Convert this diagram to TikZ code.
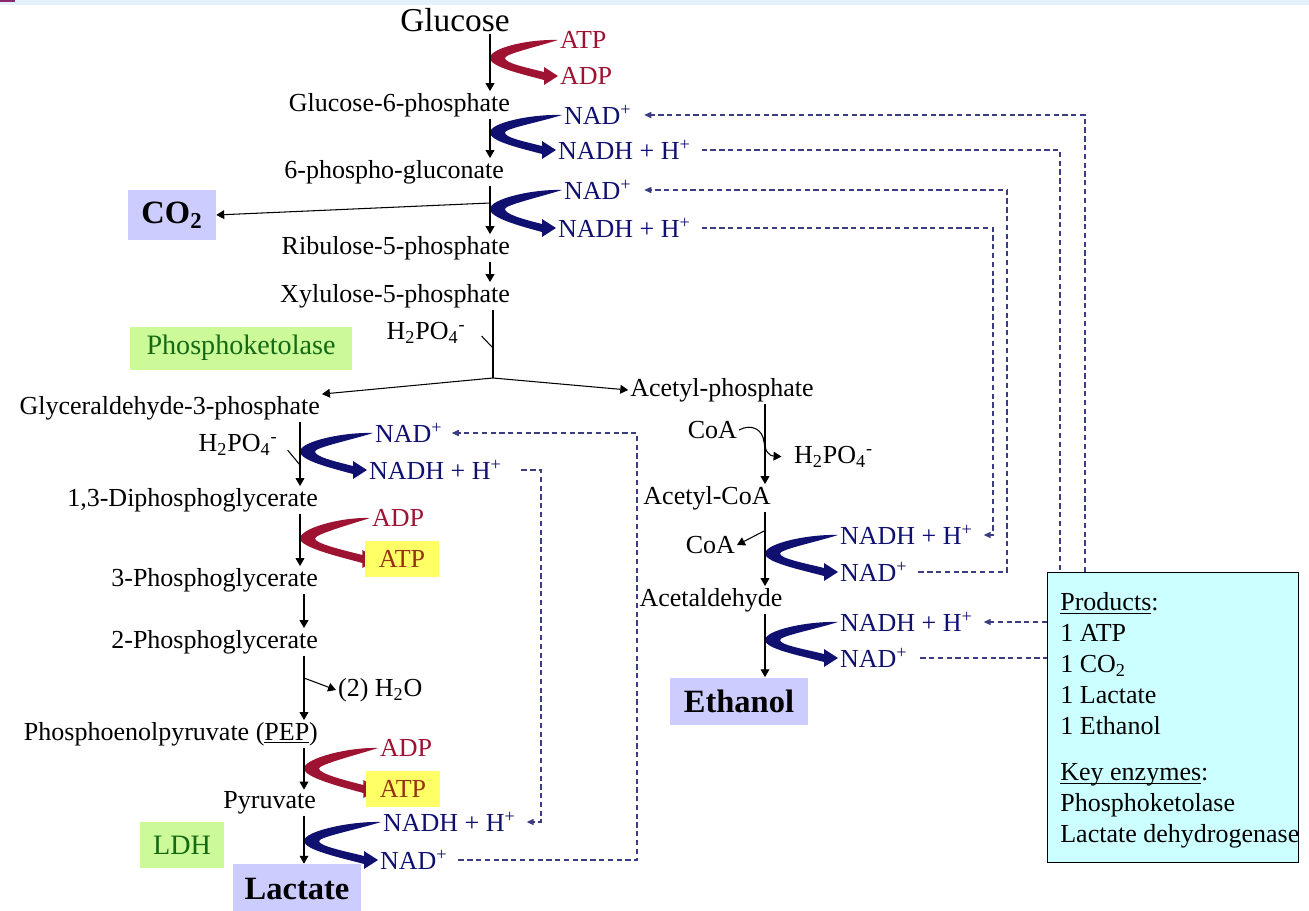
\documentclass[tikz,border=0pt]{standalone}
\usepackage{fontspec}
\setmainfont{Liberation Serif}
\usetikzlibrary{arrows.meta,calc,backgrounds}

\definecolor{atpred}{RGB}{158,18,50}
\definecolor{nadblue}{RGB}{16,16,112}
\definecolor{dashblue}{RGB}{60,60,130}
\definecolor{enzgreen}{RGB}{204,250,153}
\definecolor{enztext}{RGB}{20,105,20}
\definecolor{prodlav}{RGB}{204,204,255}
\definecolor{atpyellow}{RGB}{255,255,102}
\definecolor{atptext}{RGB}{150,50,20}
\definecolor{sumcyan}{RGB}{204,255,255}
\definecolor{topline}{RGB}{228,240,250}
\definecolor{topmark}{RGB}{140,40,110}

\newcommand{\hpo}{H\textsubscript{2}PO\textsubscript{4}\textsuperscript{-}}
\newcommand{\nadp}{NAD\textsuperscript{+}}
\newcommand{\nadh}{NADH + H\textsuperscript{+}}
\newcommand{\uln}[1]{\underline{\smash{#1}}\vphantom{#1}}

% thick cofactor arrow: from, to, axis, colour
\newcommand{\swoosh}[4]{%
  \coordinate (swS) at (#1);
  \coordinate (swE) at (#2);
  \coordinate (swM) at ($(swS)!0.5!(swE)$);
  \coordinate (swB) at (swM -| #3);
  \fill[#4] (swS) .. controls +(-30,-1) and +(0,-10) .. (swB)
    .. controls +(0,9) and +(-22,-6) .. ($(swE)+(-14,4)$)
    -- ($(swE)+(-14,9)$) -- (swE) -- ($(swE)+(-14,-9)$) -- ($(swE)+(-14,-4)$)
    .. controls +(-20,-5) and +(0,5) .. ($(swB)+(15,0)$)
    .. controls +(0,-4) and +(-22,7) .. (swS) -- cycle;}

\begin{document}
\begin{tikzpicture}[x=0.02cm, y=-0.02cm,
    lbl/.style={font=\fontsize{14.8}{17}\selectfont, inner sep=1pt},
    atpc/.style={lbl, text=atpred, anchor=west},
    nadc/.style={lbl, text=nadblue, anchor=west},
    enz/.style={fill=enzgreen, text=enztext, font=\fontsize{16}{19}\selectfont},
    endbox/.style={fill=prodlav, font=\bfseries\fontsize{18.5}{21}\selectfont},
    atpbox/.style={fill=atpyellow, text=atptext, font=\fontsize{14.8}{17}\selectfont,
                   minimum width=1.5cm, minimum height=0.72cm},
    stp/.style={-{Triangle[length=4.5pt,width=5pt]}, line width=0.6pt},
    dsh/.style={dashblue, line width=0.6pt, dash pattern=on 3pt off 2pt},
    dtip/.style={-{Triangle[length=4pt,width=3.5pt]}}]
    \useasboundingbox (0,0) rectangle (1309,910);
    \fill[topline] (0,0) rectangle (1309,5);
    \fill[topmark] (0,0) rectangle (15,2);

    \coordinate (ax)  at (490,0);
    \coordinate (axl) at (300,0);
    \coordinate (axm) at (304,0);
    \coordinate (axr) at (765,0);

    % main pathway
    \node[lbl, font=\fontsize{19}{22}\selectfont] (glc) at (455,20) {Glucose};
    \node[lbl, anchor=east] (g6p)  at (512,105) {Glucose-6-phosphate};
    \node[lbl, anchor=east] (pgl)  at (506,172) {6-phospho-gluconate};
    \node[lbl, anchor=east] (r5p)  at (512,248) {Ribulose-5-phosphate};
    \node[lbl, anchor=east] (x5p)  at (512,296) {Xylulose-5-phosphate};
    \node[lbl]              (pia)  at (426,333) {\hpo};
    \node[lbl, anchor=east] (g3p)  at (322,408) {Glyceraldehyde-3-phosphate};
    \node[lbl]              (pib)  at (238,445) {\hpo};
    \node[lbl, anchor=east] (dpg)  at (320,500) {1,3-Diphosphoglycerate};
    \node[lbl, anchor=east] (pga3) at (320,580) {3-Phosphoglycerate};
    \node[lbl, anchor=east] (pga2) at (320,642) {2-Phosphoglycerate};
    \node[lbl, anchor=west] (wat)  at (336,690) {(2) H\textsubscript{2}O};
    \node[lbl, anchor=east] (pep)  at (320,734) {Phosphoenolpyruvate (\uln{PEP})};
    \node[lbl, anchor=east] (pyr)  at (318,803) {Pyruvate};
    \node[lbl]              (acp)  at (722,390) {Acetyl-phosphate};
    \node[lbl, anchor=east] (coa1) at (739,430) {CoA};
    \node[lbl, anchor=west] (pic)  at (792,457) {\hpo};
    \node[lbl]              (acoa) at (707,498) {Acetyl-CoA};
    \node[lbl, anchor=east] (coa2) at (737,545) {CoA};
    \node[lbl]              (acal) at (711,600) {Acetaldehyde};

    \node[endbox, minimum width=1.76cm, minimum height=1cm]    (co2) at (172,215) {CO\textsubscript{2}};
    \node[endbox, minimum width=2.58cm, minimum height=1cm]    (lac) at (297,889) {Lactate};
    \node[endbox, minimum width=2.76cm, minimum height=0.94cm] (eth) at (739,701) {Ethanol};
    \node[enz, minimum width=4.44cm, minimum height=0.86cm] (pkl) at (241,348) {Phosphoketolase};
    \node[enz, minimum width=1.7cm, minimum height=0.92cm]  (ldh) at (182,845) {LDH};

    % cofactors
    \node[atpc] (atp1)  at (558,40)  {ATP};
    \node[atpc] (adp1)  at (558,76)  {ADP};
    \node[nadc] (nad1)  at (562,115) {\nadp};
    \node[nadc] (nadh1) at (556,150) {\nadh};
    \node[nadc] (nad2)  at (562,190) {\nadp};
    \node[nadc] (nadh2) at (556,228) {\nadh};
    \node[nadc] (nad3)  at (373,433) {\nadp};
    \node[nadc] (nadh3) at (367,470) {\nadh};
    \node[atpc] (adp2)  at (370,518) {ADP};
    \node[atpbox] (atp2) at (402,559) {ATP};
    \node[atpc] (adp3)  at (378,748) {ADP};
    \node[atpbox] (atp3) at (403,789) {ATP};
    \node[nadc] (nadh4) at (381,822) {\nadh};
    \node[nadc] (nad4)  at (378,860) {\nadp};
    \node[nadc] (nadh5) at (838,535) {\nadh};
    \node[nadc] (nad5)  at (838,572) {\nadp};
    \node[nadc] (nadh6) at (838,622) {\nadh};
    \node[nadc] (nad6)  at (838,658) {\nadp};

    % summary box
    \node[draw, fill=sumcyan, line width=0.8pt, minimum width=5.02cm, minimum height=5.8cm,
          anchor=north west] (summ) at (1047,572) {};
    \node[lbl, anchor=north west, align=left, inner sep=0pt, font=\fontsize{14.8}{17.6}\selectfont]
        (sumtxt) at (1060,592) {\uln{Products}:\\ 1 ATP\\ 1 CO\textsubscript{2}\\ 1 Lactate\\ 1 Ethanol\\[9pt]
        \uln{Key enzymes}:\\ Phosphoketolase\\ Lactate dehydrogenase};

    % steps
    \draw[stp] (glc.south -| ax) -- (g6p.north -| ax);
    \draw[stp] (g6p.south -| ax) -- (pgl.north -| ax);
    \draw[stp] (pgl.south -| ax) -- (r5p.north -| ax);
    \draw[stp] (r5p.south -| ax) -- (x5p.north -| ax);
    \coordinate (cb) at (490,203);
    \draw[stp] (cb) -- (co2.east);
    \coordinate (br) at (493,378);
    \coordinate (pa) at (493,348);
    \draw[line width=0.6pt] (x5p.south -| br) -- (br);
    \draw[line width=0.6pt] ($(pia.east)+(14,3)$) -- (pa);
    \draw[stp] (br) -- (g3p.north east);
    \draw[stp] (br) -- (acp.west);

    \draw[stp] (g3p.south -| axl) -- (dpg.north -| axl);
    \coordinate (pb) at (300,465);
    \draw[line width=0.6pt] ($(pib.east)+(8,5)$) -- (pb);
    \draw[stp] (dpg.south -| axl) -- (pga3.north -| axl);
    \draw[stp] (pga3.south -| axm) -- (pga2.north -| axm);
    \draw[stp] (pga2.south -| axm) -- (pep.north -| axm);
    \coordinate (wb) at (304,678);
    \draw[stp] (wb) -- (wat.west);
    \draw[stp] (pep.south -| axm) -- (pyr.north -| axm);
    \draw[stp] (pyr.south -| axm) -- (lac.north -| axm);

    \draw[stp] (acp.south -| axr) -- (acoa.north -| axr);
    \draw[stp, shorten >=6pt] (coa1.east) .. controls (752,423) and (763,430) .. (764,442)
        .. controls (765,452) and (770,456) .. (pic.west);
    \draw[stp] (acoa.south -| axr) -- (acal.north -| axr);
    \coordinate (cc) at (766,530);
    \draw[stp] (cc) -- (coa2.east);
    \draw[stp] (acal.south -| axr) -- (eth.north -| axr);

    \begin{pgfonlayer}{background}
    \swoosh{atp1.west}{adp1.west}{ax}{atpred}
    \swoosh{nad1.west}{nadh1.west}{ax}{nadblue}
    \swoosh{nad2.west}{nadh2.west}{ax}{nadblue}
    \swoosh{nad3.west}{nadh3.west}{axl}{nadblue}
    \swoosh{adp2.west}{[xshift=7pt]atp2.west}{axl}{atpred}
    \swoosh{adp3.west}{[xshift=7pt]atp3.west}{axm}{atpred}
    \swoosh{nadh4.west}{nad4.west}{axm}{nadblue}
    \swoosh{nadh5.west}{nad5.west}{axr}{nadblue}
    \swoosh{nadh6.west}{nad6.west}{axr}{nadblue}
    \end{pgfonlayer}

    % NAD recycling
    \coordinate (d1) at (1085,0);
    \coordinate (d2) at (1060,0);
    \coordinate (d3) at (1007,0);
    \coordinate (d4) at (993,0);
    \coordinate (d5) at (637,0);
    \coordinate (d6) at (541,0);
    \draw[dsh, dtip, shorten >=6pt] (summ.north -| d1) |- (nad1.east);
    \draw[dsh, shorten <=5pt] (nadh1.east) -| (summ.north -| d2);
    \draw[dsh, dtip, shorten <=5pt, shorten >=6pt] (nad5.east) -| (nad2.east -| d3) -- (nad2.east);
    \draw[dsh, dtip, shorten <=5pt, shorten >=5pt] (nadh2.east) -- (nadh2.east -| d4) |- (nadh5.east);
    \draw[dsh, dtip, shorten <=5pt, shorten >=4pt] (nad4.east) -- (nad4.east -| d5) |- (nad3.east);
    \draw[dsh, dtip, shorten <=10pt, shorten >=5pt] (nadh3.east) -- (nadh3.east -| d6) |- (nadh4.east);
    \draw[dsh, dtip, shorten >=5pt] (summ.west |- nadh6.east) -- (nadh6.east);
    \draw[dsh, shorten <=6pt] (nad6.east) -- (summ.west |- nad6.east);
\end{tikzpicture}
\end{document}
